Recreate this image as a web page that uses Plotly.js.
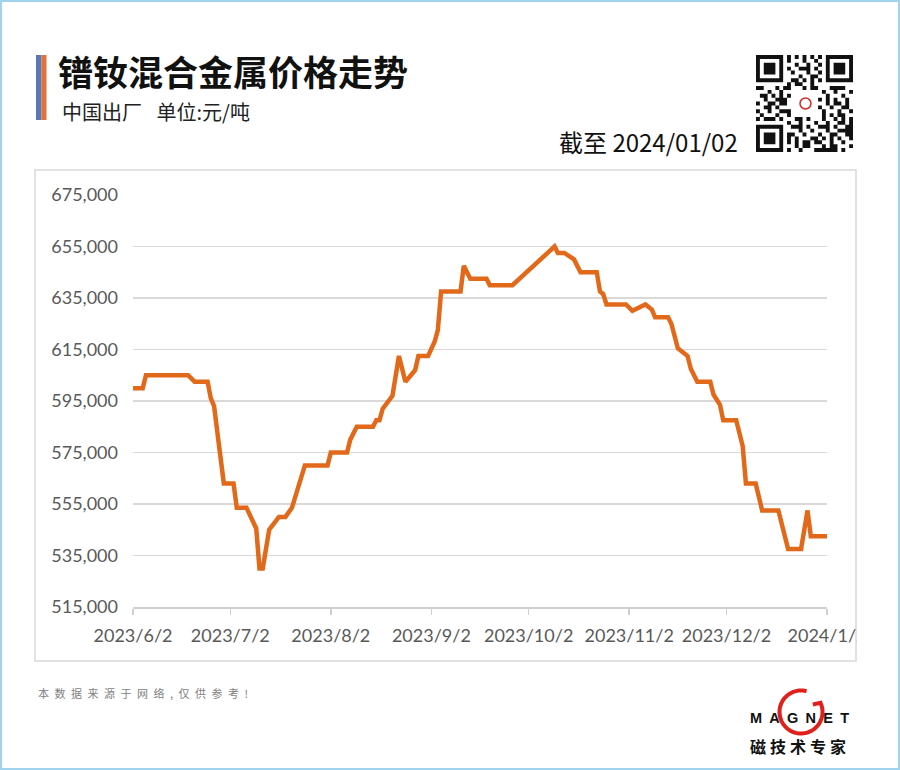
<!DOCTYPE html>
<html><head><meta charset="utf-8">
<script src="https://cdn.plot.ly/plotly-3.0.1.min.js"></script>
<style>html,body{margin:0;padding:0;background:#fff;} #chart{width:900px;height:770px;}</style>
</head><body><div id="chart"></div>
<script>
// ---- data ----
const dates = ['2023-06-02','2023-06-05','2023-06-06','2023-06-19','2023-06-21','2023-06-25','2023-06-26','2023-06-27','2023-06-30',
 '2023-07-03','2023-07-04','2023-07-07','2023-07-10','2023-07-11','2023-07-12','2023-07-14','2023-07-17','2023-07-19','2023-07-21','2023-07-25',
 '2023-08-01','2023-08-02','2023-08-07','2023-08-08','2023-08-10','2023-08-15','2023-08-16','2023-08-17','2023-08-18','2023-08-21','2023-08-23','2023-08-25','2023-08-28','2023-08-29',
 '2023-09-01','2023-09-03','2023-09-04','2023-09-05','2023-09-11','2023-09-12','2023-09-14','2023-09-19','2023-09-20','2023-09-27',
 '2023-10-10','2023-10-11','2023-10-13','2023-10-16','2023-10-18','2023-10-23','2023-10-24','2023-10-25','2023-10-26',
 '2023-11-01','2023-11-03','2023-11-07','2023-11-09','2023-11-10','2023-11-14','2023-11-15','2023-11-17','2023-11-20','2023-11-21','2023-11-23','2023-11-27','2023-11-28','2023-11-30',
 '2023-12-01','2023-12-05','2023-12-06','2023-12-07','2023-12-08','2023-12-11','2023-12-13','2023-12-18','2023-12-21','2023-12-25','2023-12-27','2023-12-28','2024-01-02'];
const prices = [600000,600000,605000,605000,602500,602500,596000,593000,563000,
 563000,553500,553500,545500,530000,530000,545000,550000,550000,553500,570000,
 570000,575000,575000,580000,585000,585000,587500,587500,592000,597000,612500,602500,607000,612500,
 612500,618000,622500,637500,637500,647500,642500,642500,640000,640000,
 655000,652500,652500,650000,645000,645000,637500,636500,632500,
 632500,630000,632500,630500,627500,627500,625000,615500,612500,607500,602500,602500,597500,593500,
 587500,587500,582000,577500,563000,563000,552500,552500,537500,537500,552500,542500,542500];
const tickDates = ['2023-06-02','2023-07-02','2023-08-02','2023-09-02','2023-10-02','2023-11-02','2023-12-02','2024-01-02'];
const tickLabels = ['2023/6/2','2023/7/2','2023/8/2','2023/9/2','2023/10/2','2023/11/2','2023/12/2','2024/1/2'];
const yTickVals = [515000,535000,555000,575000,595000,615000,635000,655000,675000];

const titleText = '镨钕混合金属价格走势';
const subtitleText = '中国出厂\u2002 单位:元/吨';
const dateText = '截至 2024/01/02';
const footerText = '本数据来源于网络,仅供参考!';

// ---- geometry helpers ----
const L=133, R=827, T=195, B=607;
const pw=R-L, ph=B-T;
const fx = x => (x-L)/pw;
const fy = y => (B-y)/ph;
const CJK = '"Noto Sans CJK SC", "Noto Sans", sans-serif';
const TICKFONT = 'Lato, "Liberation Sans", Arial, sans-serif';

const shapes = [];
// outer light-blue frame
shapes.push({type:'rect', xref:'paper', yref:'paper', x0:fx(1), x1:fx(899), y0:fy(1), y1:fy(769), line:{color:'#9fd3ee', width:2}, layer:'below'});
// chart box
shapes.push({type:'rect', xref:'paper', yref:'paper', x0:fx(35), x1:fx(856), y0:fy(170), y1:fy(661), line:{color:'#d9d9d9', width:1.5}, layer:'below'});
// cover for clipped last tick label
shapes.push({type:'rect', xref:'paper', yref:'paper', x0:fx(857), x1:fx(897), y0:fy(615), y1:fy(656), fillcolor:'#ffffff', line:{width:0}, layer:'above'});
// accent bar
shapes.push({type:'rect', xref:'paper', yref:'paper', x0:fx(36), x1:fx(41.5), y0:fy(55), y1:fy(120), fillcolor:'#5b79b1', line:{width:0}});
shapes.push({type:'rect', xref:'paper', yref:'paper', x0:fx(41.5), x1:fx(46.5), y0:fy(55), y1:fy(120), fillcolor:'#e2713a', line:{width:0}});

// decorative QR-like block
(function(){
  const N=25, x0=756, y0=55, s=97/N;
  function finder(i,j,oi,oj){ const a=i-oi,b=j-oj; if(a<0||a>6||b<0||b>6) return null;
    if(a===0||a===6||b===0||b===6) return true; if(a===1||a===5||b===1||b===5) return false; return true; }
  function dark(i,j){
    let f = finder(i,j,0,0); if(f!==null) return f;
    f = finder(i,j,0,18); if(f!==null) return f;
    f = finder(i,j,18,0); if(f!==null) return f;
    if((i===7&&(j<8||j>16))||(j===7&&(i<8||i>16))||(i===17&&j<8)||(j===17&&i<8)) return false;
    if(i>=9&&i<=15&&j>=9&&j<=15) return false;
    return ((i*7+j*11+((i*j)%5)*3)%4===0) || ((i*3+j*5)%7<2);
  }
  let p='';
  for(let i=0;i<N;i++) for(let j=0;j<N;j++) if(dark(i,j)){
    const ax=x0+j*s, ay=y0+i*s;
    p += 'M'+fx(ax).toFixed(5)+','+fy(ay).toFixed(5)+'L'+fx(ax+s).toFixed(5)+','+fy(ay).toFixed(5)+'L'+fx(ax+s).toFixed(5)+','+fy(ay+s).toFixed(5)+'L'+fx(ax).toFixed(5)+','+fy(ay+s).toFixed(5)+'Z';
  }
  shapes.push({type:'path', xref:'paper', yref:'paper', path:p, fillcolor:'#111111', line:{width:0}});
  shapes.push({type:'circle', xref:'paper', yref:'paper', x0:fx(800), x1:fx(811), y0:fy(98), y1:fy(109), line:{color:'#d42a2a', width:1.5}});
})();

// logo ring
(function(){
  const cx=801, cy=712, r=21.5; let p='';
  for(let k=0;k<=60;k++){ const a=(75+ (310*k/60))*Math.PI/180;
    const x=cx+r*Math.cos(a), y=cy-r*Math.sin(a);
    p += (k===0?'M':'L')+fx(x).toFixed(5)+','+fy(y).toFixed(5); }
  p += 'L'+fx(cx+r*0.55).toFixed(5)+','+fy(cy-r*0.35).toFixed(5);
  shapes.push({type:'path', xref:'paper', yref:'paper', path:p, line:{color:'#e0211b', width:4}, layer:'below'});
})();

function ann(text,x,y,size,opts){
  return Object.assign({text:text, xref:'paper', yref:'paper', x:fx(x), y:fy(y), showarrow:false,
    xanchor:'left', yanchor:'middle', borderpad:0, font:{family:CJK, size:size, color:'#111'}}, opts||{});
}
const spaced = (s,sp) => s.split('').join(sp);
const annotations = [
  ann(titleText, 57, 70, 35, {font:{family:CJK, size:35, color:'#111', weight:700}}),
  ann(subtitleText, 61, 111, 20, {font:{family:CJK, size:20, color:'#222'}}),
  ann(dateText, 739, 141, 24, {xanchor:'right', font:{family:CJK, size:24, color:'#111'}}),
  ann(spaced(footerText,'\u2002'), 37, 693, 11, {font:{family:CJK, size:11, color:'#7f7f7f'}}),
  ann(spaced('MAGNET','\u2002'), 799, 718, 14.5, {xanchor:'center', font:{family:'"Liberation Sans", Arial, sans-serif', size:14.5, color:'#111', weight:700}}),
  ann(spaced('磁技术专家','\u2005'), 798, 746, 16, {xanchor:'center', font:{family:CJK, size:16, color:'#111', weight:700}})
];

const trace = {x:dates, y:prices, type:'scatter', mode:'lines', line:{color:'#e2691a', width:4.5, shape:'linear'}, hoverinfo:'skip'};

const layout = {
  width:900, height:770, paper_bgcolor:'#ffffff', plot_bgcolor:'#ffffff',
  margin:{l:L, r:900-R, t:T, b:770-B, pad:0},
  showlegend:false,
  xaxis:{type:'date', range:['2023-06-02','2024-01-02'], tickmode:'array', tickvals:tickDates, ticktext:tickLabels,
    showgrid:false, zeroline:false, showline:true, linecolor:'#d0d0d0', linewidth:1.5,
    ticks:'outside', ticklen:6, tickcolor:'#d0d0d0', tickwidth:1.5, ticklabelstandoff:6,
    tickfont:{family:TICKFONT, size:18, color:'#595959'}, fixedrange:true},
  yaxis:{range:[515000,675000], tickmode:'array', tickvals:yTickVals, tickformat:',d',
    showgrid:true, gridcolor:'#d9d9d9', gridwidth:1.5, zeroline:false, showline:false, ticks:'', ticklabelstandoff:14,
    tickfont:{family:TICKFONT, size:18, color:'#595959'}, fixedrange:true},
  shapes:shapes, annotations:annotations
};
Plotly.newPlot('chart',[trace],layout,{staticPlot:true, displayModeBar:false});
</script></body></html>
